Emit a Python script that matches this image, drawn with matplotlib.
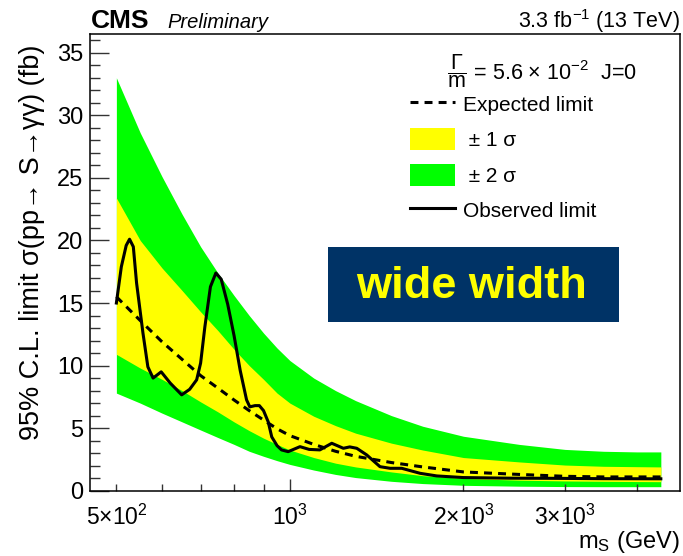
import matplotlib
matplotlib.use("Agg")
import matplotlib.pyplot as plt
from matplotlib.patches import Patch, Rectangle
from matplotlib.lines import Line2D
from matplotlib.ticker import FixedLocator, FuncFormatter, MultipleLocator

plt.rcParams['font.family'] = ['Liberation Sans', 'DejaVu Sans']
plt.rcParams['mathtext.fontset'] = 'custom'
plt.rcParams['mathtext.rm'] = 'Liberation Sans'
plt.rcParams['mathtext.it'] = 'Liberation Sans:italic'
plt.rcParams['mathtext.bf'] = 'Liberation Sans:bold'

# ---------------- DATA ----------------
mass_band = [500, 550, 600, 650, 700, 750, 800, 850, 900, 950, 1000, 1100,
             1200, 1300, 1500, 1700, 2000, 2500, 3000, 3500, 4000, 4400]
expected = [15.5, 13.6, 11.9, 10.5, 9.2, 8.2, 7.25, 6.4, 5.65, 4.95, 4.4, 3.7,
            3.15, 2.75, 2.25, 1.9, 1.5, 1.3, 1.15, 1.1, 1.1, 1.1]
up1 = [23.4, 20.0, 17.8, 16.0, 14.3, 12.8, 11.3, 10.0, 8.9, 7.8, 7.0, 5.95,
       5.2, 4.6, 3.8, 3.25, 2.65, 2.3, 2.05, 1.95, 1.92, 1.9]
up2 = [33.0, 28.6, 25.1, 22.1, 19.5, 17.4, 15.6, 14.0, 12.6, 11.4, 10.4, 9.0,
       8.0, 7.2, 6.0, 5.15, 4.35, 3.7, 3.3, 3.15, 3.1, 3.1]
lo1 = [10.9, 9.8, 8.9, 8.0, 7.1, 6.3, 5.5, 4.8, 4.2, 3.7, 3.25, 2.65,
       2.2, 1.9, 1.5, 1.2, 0.98, 0.84, 0.78, 0.75, 0.73, 0.72]
lo2 = [7.8, 7.0, 6.2, 5.5, 4.85, 4.25, 3.7, 3.15, 2.75, 2.4, 2.1, 1.65,
       1.3, 1.05, 0.75, 0.57, 0.43, 0.36, 0.33, 0.32, 0.32, 0.32]

obs_mass = [500, 510, 520, 527, 535, 542, 556, 567, 579, 598, 620, 649, 670,
            689, 700, 712, 728, 744, 760, 780, 800, 820, 841, 852, 870, 885,
            900, 917, 930, 950, 967, 993, 1041, 1080, 1127, 1182, 1238, 1270,
            1306, 1359, 1433, 1492, 1563, 1682, 1798, 2000, 2400, 2829, 3500, 4400]
observed = [15.0, 17.9, 19.6, 20.1, 19.5, 16.6, 12.6, 9.9, 9.0, 9.5, 8.6, 7.66, 8.1,
            8.86, 10.2, 13.1, 16.3, 17.4, 16.9, 14.9, 12.4, 9.6, 7.26, 6.7, 6.8, 6.8,
            6.4, 5.5, 4.3, 3.6, 3.26, 3.12, 3.52, 3.3, 3.26, 3.79, 3.39, 3.5,
            3.39, 2.86, 1.92, 1.79, 1.79, 1.39, 1.18, 1.05, 1.0, 0.99, 0.96, 0.95]

xtick_minor = [500, 600, 700, 800, 900, 2000, 3000, 4000]
xtick_labels = {500: r"5$\times$10$^{2}$", 1000: r"10$^{3}$",
                2000: r"2$\times$10$^{3}$", 3000: r"3$\times$10$^{3}$"}

# ---------------- FIGURE ----------------
W, H = 683, 556
fig = plt.figure(figsize=(W / 100, H / 100), dpi=100)
ax = fig.add_axes([90 / W, 1 - 490.7 / H, 590 / W, (490.7 - 34) / H])

ax.fill_between(mass_band, lo2, up2, color="#00ff00", lw=0)
ax.fill_between(mass_band, lo1, up1, color="#ffff00", lw=0)
ax.plot(mass_band, expected, color="black", lw=2.2, ls=(0, (2.6, 2.0)))
ax.plot(obs_mass, observed, color="black", lw=2.2, solid_joinstyle="round")

ax.set_xscale("log")
ax.set_xlim(450, 4750)
ax.set_ylim(0, 36.5)

# ticks
ax.xaxis.set_major_locator(FixedLocator([1000]))
ax.xaxis.set_minor_locator(FixedLocator(xtick_minor))
fmt = FuncFormatter(lambda v, p: xtick_labels.get(int(round(v)), ""))
ax.xaxis.set_major_formatter(fmt)
ax.xaxis.set_minor_formatter(fmt)
ax.yaxis.set_major_locator(MultipleLocator(5))
ax.yaxis.set_minor_locator(MultipleLocator(1))

ax.tick_params(axis="both", which="both", direction="in", top=False, right=False,
               color="#333333", width=1.0)
ax.tick_params(axis="x", which="both", labelsize=16.5)
ax.tick_params(axis="y", which="both", labelsize=17)
ax.tick_params(axis="x", which="major", length=9, pad=10)
ax.tick_params(axis="x", which="minor", length=4.8, pad=10)
ax.tick_params(axis="y", which="major", length=13.5, pad=5)
ax.tick_params(axis="y", which="minor", length=7, pad=5)
for s in ax.spines.values():
    s.set_linewidth(1.1)

fig.text(680 / W, 1 - 548 / H, r"m$_{\mathrm{S}}$ (GeV)", fontsize=17, ha="right", va="baseline")
ax.set_ylabel("95% C.L. limit σ(pp→ S→γγ) (fb)", fontsize=19.5, loc="top")
ax.yaxis.set_label_coords(-0.077, (490.7 - 45) / 456.7)

# legend
handles = [Line2D([], [], color="black", lw=2.2, ls=(0, (2.6, 2.0))),
           Patch(facecolor="#ffff00", edgecolor="none"),
           Patch(facecolor="#00ff00", edgecolor="none"),
           Line2D([], [], color="black", lw=2.2)]
labels = ["Expected limit", " ± 1 σ", " ± 2 σ", "Observed limit"]
ax.legend(handles, labels, loc="upper left", bbox_to_anchor=((410 - 90) / 590, (490.7 - 93) / 456.7),
          frameon=False, fontsize=15, handlelength=2.15, handleheight=1.25,
          labelspacing=0.64, handletextpad=0.4, borderpad=0, borderaxespad=0)
ax.text((447 - 90) / 590, (490.7 - 71) / 456.7,
        r"$\dfrac{\Gamma}{\mathrm{m}}$ = 5.6 $\times$ 10$^{-2}$  J=0",
        transform=ax.transAxes, fontsize=15.5, va="center", ha="left")

# wide width box
fig.patches.append(Rectangle((328 / W, 1 - 321.7 / H), 291 / W, 75 / H,
                             transform=fig.transFigure, facecolor="#003366",
                             edgecolor="none", zorder=5))
fig.text(472 / W, 1 - 286 / H, "wide width", color="#ffff00", fontsize=32.5,
         weight="bold", ha="center", va="center", zorder=6)

# header texts
fig.text(91 / W, 1 - 28 / H, "CMS", fontsize=19, weight="bold", va="baseline")
fig.text(167 / W, 1 - 28 / H, "Preliminary", fontsize=14.5, style="italic", va="baseline")
fig.text(680 / W, 1 - 28 / H, r"3.3 fb$^{-1}$ (13 TeV)", fontsize=15.5, ha="right", va="baseline")

fig.savefig("out.png", dpi=100)
plt.close(fig)
